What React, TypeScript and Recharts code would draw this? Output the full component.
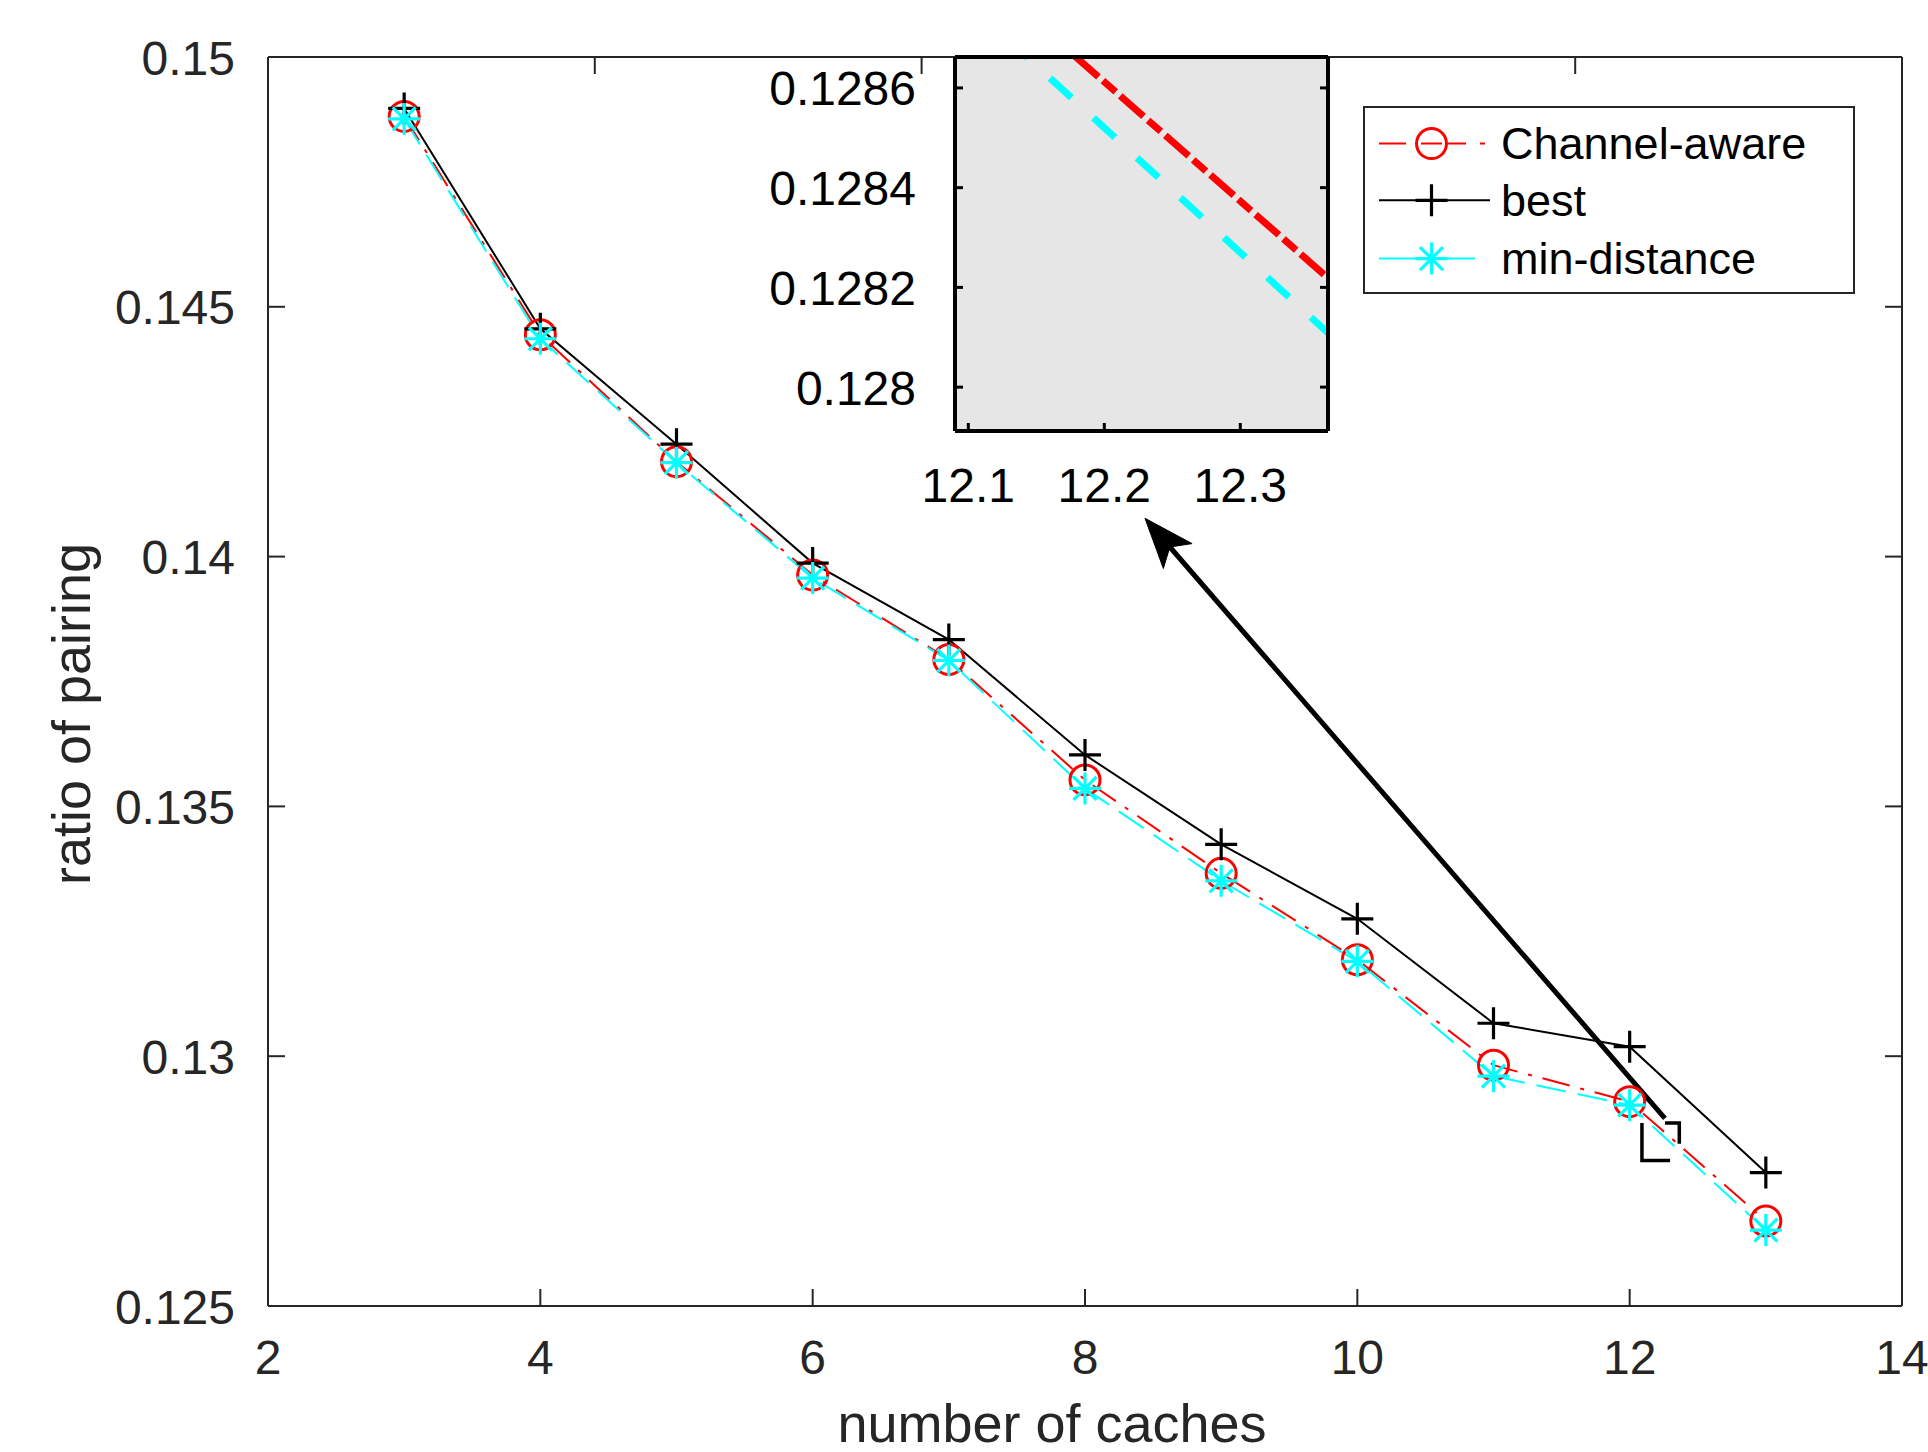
import React from 'react';
import { LineChart, Line, XAxis, YAxis, ReferenceLine, ReferenceArea, Legend } from 'recharts';

// ---------- data ----------
const caches = [3, 4, 5, 6, 7, 8, 9, 10, 11, 12, 13];
const channelAware = [0.14881, 0.14444, 0.1419, 0.13963, 0.13794, 0.13553, 0.13366, 0.13193, 0.12982, 0.12909, 0.1267];
const best = [0.14897, 0.14456, 0.14225, 0.13987, 0.13834, 0.13603, 0.13424, 0.13275, 0.13066, 0.13019, 0.12767];
const minDistance = [0.14876, 0.14436, 0.14188, 0.13957, 0.13792, 0.13536, 0.13351, 0.1319, 0.1296, 0.12902, 0.12652];

const seriesNames = ['Channel-aware', 'best', 'min-distance'];

const xTicks = [2, 4, 6, 8, 10, 12, 14];
const yTicks = [0.125, 0.13, 0.135, 0.14, 0.145, 0.15];
const xDomain = [2, 14];
const yDomain = [0.125, 0.15];

const insetXTicks = [12.1, 12.2, 12.3];
const insetYTicks = [0.128, 0.1282, 0.1284, 0.1286];
const insetXDomain = [12.0902, 12.3645];
const insetYDomain = [0.127912, 0.128662];

const arrowTail = { x: 12.259, y: 0.128757 };
const arrowTip = { x: 8.4405, y: 0.140767 };

const data = caches.map((c, i) => ({
  caches: c,
  channelAware: channelAware[i],
  best: best[i],
  minDistance: minDistance[i],
}));

// ---------- styles ----------
const FONT = '"Liberation Sans", Arial, Helvetica, sans-serif';
const RED = '#FF0000';
const CYAN = '#00FFFF';
const AXIS = '#262626';

// ---------- markers ----------
const circleShape = (cx: number, cy: number) => (
  <circle cx={cx} cy={cy} r={15} fill="none" stroke={RED} strokeWidth={3} />
);
const plusShape = (cx: number, cy: number) => (
  <path d={`M${cx - 16},${cy}H${cx + 16}M${cx},${cy - 16}V${cy + 16}`} stroke="#000" strokeWidth={3.2} fill="none" />
);
const starShape = (cx: number, cy: number) => {
  const d = 11.5;
  return (
    <path
      d={`M${cx - 16},${cy}H${cx + 16}M${cx},${cy - 16}V${cy + 16}M${cx - d},${cy - d}L${cx + d},${cy + d}M${cx - d},${cy + d}L${cx + d},${cy - d}`}
      stroke={CYAN}
      strokeWidth={3.2}
      fill="none"
    />
  );
};

const makeDot = (shape: (cx: number, cy: number) => React.ReactElement, prefix: string) => (p: any) => {
  const { cx, cy, index } = p;
  if (typeof cx !== 'number' || typeof cy !== 'number') return <g key={`${prefix}-${index}`} />;
  return <g key={`${prefix}-${index}`}>{shape(cx, cy)}</g>;
};

const circleDot = makeDot(circleShape, 'ca');
const plusDot = makeDot(plusShape, 'best');
const starDot = makeDot(starShape, 'md');

// ---------- inward ticks (drawn at the library's tick coordinates) ----------
type TickOpts = {
  side: 'bottom' | 'top' | 'left' | 'right';
  len: number;
  color: string;
  width: number;
  label?: boolean;
  offset?: number; // distance of label from axis
  baseShift?: number; // baseline shift
  fontSize?: number;
  fill?: string;
};

const makeTick = (o: TickOpts) => (props: any) => {
  const { x, y, payload, index } = props;
  const v = payload && payload.value;
  let line;
  let text = null;
  if (o.side === 'bottom') {
    line = <line x1={x} y1={y} x2={x} y2={y - o.len} stroke={o.color} strokeWidth={o.width} />;
    if (o.label)
      text = (
        <text x={x} y={y + (o.offset || 0)} textAnchor="middle" fontSize={o.fontSize} fontFamily={FONT} fill={o.fill}>
          {String(v)}
        </text>
      );
  } else if (o.side === 'top') {
    line = <line x1={x} y1={y} x2={x} y2={y + o.len} stroke={o.color} strokeWidth={o.width} />;
  } else if (o.side === 'left') {
    line = <line x1={x} y1={y} x2={x + o.len} y2={y} stroke={o.color} strokeWidth={o.width} />;
    if (o.label)
      text = (
        <text
          x={x - (o.offset || 0)}
          y={y + (o.baseShift || 0)}
          textAnchor="end"
          fontSize={o.fontSize}
          fontFamily={FONT}
          fill={o.fill}
        >
          {String(v)}
        </text>
      );
  } else {
    line = <line x1={x} y1={y} x2={x - o.len} y2={y} stroke={o.color} strokeWidth={o.width} />;
  }
  return (
    <g key={`t-${o.side}-${index}`}>
      {line}
      {text}
    </g>
  );
};

const mainBottomTick = makeTick({ side: 'bottom', len: 17, color: AXIS, width: 2, label: true, offset: 68, fontSize: 48, fill: AXIS });
const mainTopTick = makeTick({ side: 'top', len: 17, color: AXIS, width: 2 });
const mainLeftTick = makeTick({ side: 'left', len: 17, color: AXIS, width: 2, label: true, offset: 33, baseShift: 17.5, fontSize: 48, fill: AXIS });
const mainRightTick = makeTick({ side: 'right', len: 17, color: AXIS, width: 2 });

const insetBottomTick = makeTick({ side: 'bottom', len: 8, color: '#000', width: 3, label: true, offset: 71, fontSize: 48, fill: '#000' });
const insetTopTick = makeTick({ side: 'top', len: 8, color: '#000', width: 3 });
const insetLeftTick = makeTick({ side: 'left', len: 8, color: '#000', width: 3, label: true, offset: 39, baseShift: 17.5, fontSize: 48, fill: '#000' });
const insetRightTick = makeTick({ side: 'right', len: 8, color: '#000', width: 3 });

// ---------- arrow ----------
const arrowShape = (p: any) => {
  const { x1, y1, x2, y2 } = p;
  const dx = x2 - x1;
  const dy = y2 - y1;
  const len = Math.hypot(dx, dy) || 1;
  const ux = dx / len;
  const uy = dy / len;
  const nx = -uy;
  const ny = ux;
  const headLen = 50;
  const halfW = 19;
  const notch = 38;
  const bx = x2 - ux * headLen;
  const by = y2 - uy * headLen;
  const mx = x2 - ux * notch;
  const my = y2 - uy * notch;
  const pts = `${x2},${y2} ${bx + nx * halfW},${by + ny * halfW} ${mx},${my} ${bx - nx * halfW},${by - ny * halfW}`;
  return (
    <g>
      <line x1={x1} y1={y1} x2={mx} y2={my} stroke="#000" strokeWidth={5} />
      <polygon points={pts} fill="#000" stroke="#000" strokeWidth={1} />
    </g>
  );
};

// ---------- legend ----------
const renderLegend = () => {
  const rows = [37.6, 94.3, 152.6];
  const textX = 138;
  return (
    <svg width={492} height={188} style={{ display: 'block' }}>
      <rect x={1} y={1} width={490} height={186} fill="#fff" stroke={AXIS} strokeWidth={2} />
      <path
        d={`M16,${rows[0]}H43M58,${rows[0]}H79M85,${rows[0]}H103M117,${rows[0]}H122`}
        stroke={RED}
        strokeWidth={2}
        fill="none"
      />
      {circleShape(68.5, rows[0])}
      <path d={`M16,${rows[1]}H127`} stroke="#000" strokeWidth={2} fill="none" />
      {plusShape(68.5, rows[1])}
      <path d={`M16,${rows[2]}H112`} stroke={CYAN} strokeWidth={2} fill="none" />
      {starShape(68.5, rows[2])}
      {seriesNames.map((n, i) => (
        <text key={n} x={textX} y={rows[i] + 15.5} fontSize={45} fontFamily={FONT} fill="#000">
          {n}
        </text>
      ))}
    </svg>
  );
};

export default function App() {
  return (
    <div style={{ position: 'absolute', left: 0, top: 0, width: 1928, height: 1452, background: '#fff' }}>
      <LineChart
        width={1928}
        height={1452}
        data={data}
        margin={{ top: 56, right: 25, left: 68, bottom: 46 }}
      >
        <XAxis
          dataKey="caches"
          type="number"
          domain={xDomain}
          ticks={xTicks}
          interval={0}
          allowDataOverflow
          height={100}
          tickSize={0}
          tickMargin={0}
          axisLine={{ stroke: AXIS, strokeWidth: 2 }}
          tickLine={false}
          tick={mainBottomTick}
          label={{
            content: () => (
              <text x={1052} y={1442} textAnchor="middle" fontSize={54} fontFamily={FONT} fill={AXIS}>
                number of caches
              </text>
            ),
          }}
        />
        <XAxis
          xAxisId="top"
          orientation="top"
          type="number"
          domain={xDomain}
          ticks={xTicks}
          interval={0}
          allowDataOverflow
          height={1}
          tickSize={0}
          tickMargin={0}
          axisLine={{ stroke: AXIS, strokeWidth: 2 }}
          tickLine={false}
          tick={mainTopTick}
        />
        <YAxis
          type="number"
          domain={yDomain}
          ticks={yTicks}
          interval={0}
          allowDataOverflow
          width={200}
          tickSize={0}
          tickMargin={0}
          axisLine={{ stroke: AXIS, strokeWidth: 2 }}
          tickLine={false}
          tick={mainLeftTick}
          label={{
            content: () => (
              <text
                x={90}
                y={714}
                textAnchor="middle"
                fontSize={54}
                fontFamily={FONT}
                fill={AXIS}
                transform="rotate(-90 90 714)"
              >
                ratio of pairing
              </text>
            ),
          }}
        />
        <YAxis
          yAxisId="right"
          orientation="right"
          type="number"
          domain={yDomain}
          ticks={yTicks}
          interval={0}
          allowDataOverflow
          width={1}
          tickSize={0}
          tickMargin={0}
          axisLine={{ stroke: AXIS, strokeWidth: 2 }}
          tickLine={false}
          tick={mainRightTick}
        />
        <Line
          dataKey="channelAware"
          name={seriesNames[0]}
          stroke={RED}
          strokeWidth={2}
          strokeDasharray="28 11 4 11"
          dot={circleDot}
          isAnimationActive={false}
        />
        <Line
          dataKey="best"
          name={seriesNames[1]}
          stroke="#000"
          strokeWidth={2}
          dot={plusDot}
          isAnimationActive={false}
        />
        <Line
          dataKey="minDistance"
          name={seriesNames[2]}
          stroke={CYAN}
          strokeWidth={2}
          strokeDasharray="30 12"
          dot={starDot}
          isAnimationActive={false}
        />
        <ReferenceArea
          x1={insetXDomain[0]}
          x2={insetXDomain[1]}
          y1={insetYDomain[0]}
          y2={insetYDomain[1]}
          fill="none"
          fillOpacity={0}
          stroke="#000"
          strokeWidth={3.5}
          strokeDasharray="0 23 35 26 70 0"
          ifOverflow="visible"
        />
        <ReferenceLine
          segment={[
            { x: arrowTail.x, y: arrowTail.y },
            { x: arrowTip.x, y: arrowTip.y },
          ]}
          ifOverflow="visible"
          shape={arrowShape}
        />
        <Legend
          layout="vertical"
          align="center"
          verticalAlign="middle"
          width={492}
          height={188}
          content={renderLegend}
          wrapperStyle={{ left: 1363, top: 106, width: 492, height: 188 }}
        />
      </LineChart>

      <div style={{ position: 'absolute', left: 700, top: 20 }}>
        <LineChart
          width={640}
          height={520}
          data={data}
          margin={{ top: 36, right: 11, left: 55, bottom: 29 }}
        >
          <ReferenceArea
            x1={insetXDomain[0]}
            x2={insetXDomain[1]}
            y1={insetYDomain[0]}
            y2={insetYDomain[1]}
            fill="#e6e6e6"
            fillOpacity={1}
            stroke="none"
            ifOverflow="visible"
          />
          <XAxis
            dataKey="caches"
            type="number"
            domain={insetXDomain}
            ticks={insetXTicks}
            interval={0}
            allowDataOverflow
            height={80}
            tickSize={0}
            tickMargin={0}
            axisLine={{ stroke: '#000', strokeWidth: 4 }}
            tickLine={false}
            tick={insetBottomTick}
          />
          <XAxis
            xAxisId="top"
            orientation="top"
            type="number"
            domain={insetXDomain}
            ticks={insetXTicks}
            interval={0}
            allowDataOverflow
            height={1}
            tickSize={0}
            tickMargin={0}
            axisLine={{ stroke: '#000', strokeWidth: 4 }}
            tickLine={false}
            tick={insetTopTick}
          />
          <YAxis
            type="number"
            domain={insetYDomain}
            ticks={insetYTicks}
            interval={0}
            allowDataOverflow
            width={200}
            tickSize={0}
            tickMargin={0}
            axisLine={{ stroke: '#000', strokeWidth: 4 }}
            tickLine={false}
            tick={insetLeftTick}
          />
          <YAxis
            yAxisId="right"
            orientation="right"
            type="number"
            domain={insetYDomain}
            ticks={insetYTicks}
            interval={0}
            allowDataOverflow
            width={1}
            tickSize={0}
            tickMargin={0}
            axisLine={{ stroke: '#000', strokeWidth: 4 }}
            tickLine={false}
            tick={insetRightTick}
          />
          <Line
            dataKey="channelAware"
            stroke={RED}
            strokeWidth={7}
            strokeDasharray="31 6 17 6"
            dot={false}
            isAnimationActive={false}
          />
          <Line
            dataKey="minDistance"
            stroke={CYAN}
            strokeWidth={7}
            strokeDasharray="29 30"
            dot={false}
            isAnimationActive={false}
          />
        </LineChart>
      </div>
    </div>
  );
}
